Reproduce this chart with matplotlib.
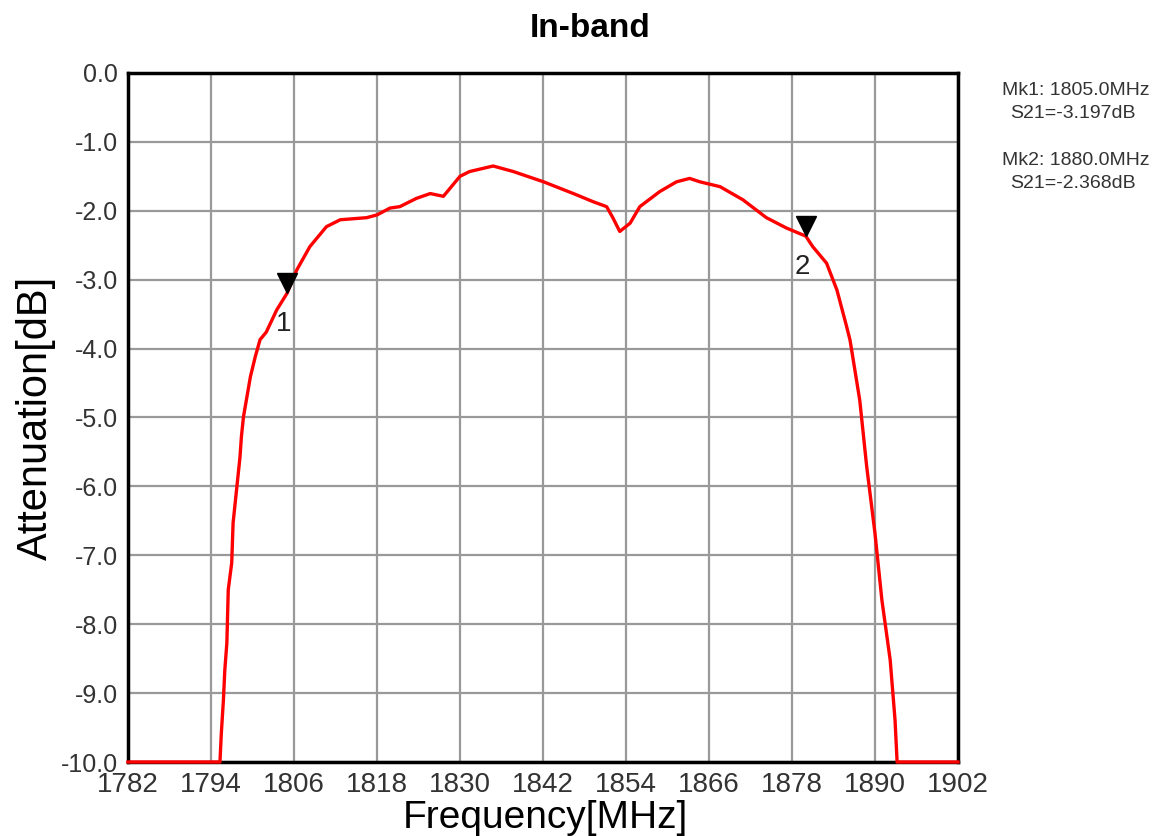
import numpy as np
import matplotlib
matplotlib.use('Agg')
import matplotlib.pyplot as plt

plt.rcParams['font.family'] = ['Liberation Sans', 'DejaVu Sans']

# Data (S21, in-band)
freq = [1782.0, 1795.3, 1795.5, 1795.8, 1796.0, 1796.3, 1796.5, 1797.0, 1797.2,
        1797.7, 1798.2, 1798.4, 1798.7, 1799.2, 1799.7, 1800.4, 1801.1, 1802.0,
        1803.5, 1805.0, 1806.4, 1808.3, 1810.7, 1812.7, 1816.5, 1818.0, 1819.9,
        1821.3, 1823.7, 1825.7, 1827.6, 1830.0, 1831.4, 1834.8, 1837.7, 1842.1,
        1846.4, 1849.3, 1851.2, 1852.1, 1853.1, 1854.6, 1856.0, 1858.9, 1861.3,
        1863.2, 1864.7, 1867.6, 1870.9, 1874.3, 1877.2, 1880.0, 1881.0, 1883.0,
        1884.5, 1885.9, 1886.4, 1887.8, 1888.8, 1890.0, 1891.0, 1892.2, 1892.9,
        1893.2, 1902.0]
atten = [-10.0, -10.0, -9.58, -9.1, -8.67, -8.27, -7.5, -7.11, -6.53,
         -6.05, -5.57, -5.28, -4.99, -4.70, -4.41, -4.12, -3.87, -3.76,
         -3.44, -3.197, -2.86, -2.52, -2.23, -2.13, -2.10, -2.06, -1.96,
         -1.94, -1.82, -1.75, -1.79, -1.50, -1.43, -1.35, -1.43, -1.58,
         -1.75, -1.87, -1.94, -2.10, -2.30, -2.18, -1.94, -1.72, -1.58,
         -1.53, -1.58, -1.65, -1.84, -2.10, -2.25, -2.368, -2.52, -2.76,
         -3.15, -3.68, -3.88, -4.75, -5.71, -6.68, -7.65, -8.52, -9.39,
         -10.0, -10.0]

mk_freq = [1805.0, 1880.0]
mk_val = [-3.197, -2.368]
mk_name = ['1', '2']

xticks = np.arange(1782, 1903, 12)
yticks = np.arange(-10, 0.1, 1.0)

fig = plt.figure(figsize=(11.75, 8.36), dpi=100)
ax = fig.add_axes([0.1089, 0.0885, 0.7064, 0.8242])

ax.plot(freq, atten, color='red', lw=2.4, zorder=5, clip_on=False)

# markers
ax.plot(mk_freq, [v + 0.15 for v in mk_val], 'v', color='black', ms=14, zorder=6)
for f, v, n in zip(mk_freq, mk_val, mk_name):
    ax.text(f - 0.5, v - 0.45, n, ha='center', va='center', fontsize=20, color='#222222', zorder=6)

ax.set_xlim(1782, 1902)
ax.set_ylim(-10, 0)
ax.set_xticks(xticks)
ax.set_yticks(yticks)
ax.set_yticklabels([f'{t:.1f}' for t in yticks])
ax.grid(True, color='#999999', lw=1.6)
ax.set_axisbelow(True)
for s in ax.spines.values():
    s.set_linewidth(2.5)
    s.set_color('black')
ax.tick_params(length=0)
ax.tick_params(axis='x', labelsize=20, labelcolor='#333333', pad=7)
ax.tick_params(axis='y', labelsize=18, labelcolor='#333333', pad=7)

fig.text(0.464, 0.021, 'Frequency[MHz]', fontsize=28, ha='center', va='center')
ax.set_ylabel('Attenuation[dB]', fontsize=30, labelpad=4)
fig.text(0.502, 0.966, 'In-band', fontsize=24, fontweight='bold', ha='center', va='center')

# marker readout
fig.text(0.853, 0.892, 'Mk1: 1805.0MHz', fontsize=14, color='#333333', va='center')
fig.text(0.860, 0.864, 'S21=-3.197dB', fontsize=14, color='#333333', va='center')
fig.text(0.853, 0.808, 'Mk2: 1880.0MHz', fontsize=14, color='#333333', va='center')
fig.text(0.860, 0.780, 'S21=-2.368dB', fontsize=14, color='#333333', va='center')

plt.savefig('out.png', dpi=100)
